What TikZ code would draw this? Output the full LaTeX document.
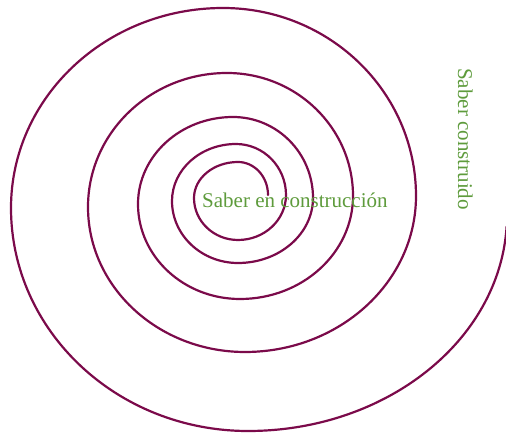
\documentclass[tikz,border=0pt]{standalone}
\usepackage{fontspec}
\setmainfont{Liberation Serif}
\usepackage{xcolor}
\usepackage{tikz}
\definecolor{plum}{HTML}{7B0A4A}
\definecolor{leafgreen}{HTML}{5E9B3C}
\tikzset{
  spiral/.style={draw=plum, line width=2.2pt, line cap=round},
  lbl/.style={font=\fontsize{21}{25}\selectfont, color=leafgreen, inner sep=0pt},
}

\begin{document}
\begin{tikzpicture}[x=1pt, y=1pt]
  \useasboundingbox (0,0) rectangle (506,433);
  % spiral, one quarter at a time, from the middle outwards
  \draw[spiral] (268,238)
    \foreach \a/\xr/\yr in {0/30/33, 90/44/36, 180/44/42, 270/48/45,
                            0/50/51, 90/64/57, 180/66/62, 270/75/65,
                            0/80/81, 90/95/87, 180/102/95, 270/113/103,
                            0/126/123, 90/139/134, 180/157/145, 270/171/156,
                            0/193/188, 90/212/200, 180/237/223}{
      arc[start angle=\a, delta angle=90, x radius=\xr pt, y radius=\yr pt]}
    arc[start angle=270, delta angle=87, x radius=259pt, y radius=216pt];
  \node[lbl, anchor=base west] (inner) at (202,225) {Saber en construcción};
  \node[lbl, rotate=-90, anchor=base west] (outer) at (458,365) {Saber construido};
\end{tikzpicture}
\end{document}
